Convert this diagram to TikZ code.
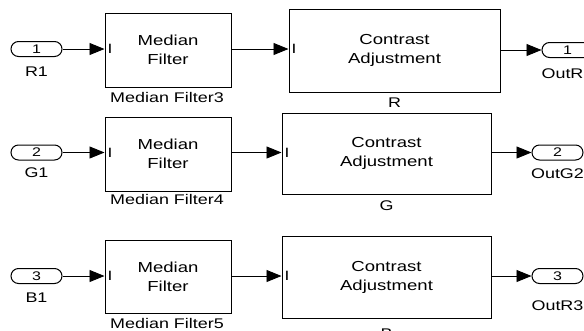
\documentclass[tikz,border=0pt]{standalone}
\usepackage{fontspec}
\setmainfont{Liberation Sans}[FakeStretch=1.28]
\usetikzlibrary{arrows.meta}
\begin{document}
\begin{tikzpicture}[x=1pt,y=-1pt,
  blk/.style={draw, line width=1pt, align=center, inner sep=0pt,
    font=\fontsize{14.5}{19}\selectfont},
  port/.style={draw, line width=1pt, rounded corners=7.5pt, minimum width=51pt,
    minimum height=15pt, inner sep=0pt, font=\fontsize{12.5}{12.5}\selectfont},
  lbl/.style={anchor=base, inner sep=0pt, font=\fontsize{14}{14}\selectfont},
  pin/.style={anchor=west, inner sep=0pt, font=\fontsize{13.5}{14}\selectfont},
  wire/.style={line width=0.9pt, -{Triangle[length=15pt,width=12pt]}}]
\clip (0,0) rectangle (584,330);
\useasboundingbox (0,0) rectangle (584,330);

% ---- red channel ----
\node[port] (in1) at (36.5,49) {1};
\node[lbl] (in1lbl) at (36.5,76) {R1};
\node[blk, minimum width=126pt, minimum height=74pt] (med1) at (168,50) {Median\\Filter};
\node[pin] (med1in) at ([xshift=3pt]med1.west |- in1) {I};
\node[lbl] (med1lbl) at (167,102) {Median Filter3};
\node[blk, minimum width=211pt, minimum height=83pt] (con1) at (394.5,50.5) {Contrast\\Adjustment};
\node[pin] (con1in) at ([xshift=3pt]con1.west |- in1) {I};
\node[lbl] (con1lbl) at (394.5,107) {R};
\node[port] (out1) at (567.5,50) {1};
\node[lbl] (out1lbl) at (567.5,78) {OutR1};
\draw[wire] (in1) -- (med1.west |- in1);
\draw[wire] (med1.east |- in1) -- (con1.west |- in1);
\draw[wire] (con1.east |- out1) -- (out1);

% ---- green channel ----
\node[port] (in2) at (36.5,152.5) {2};
\node[lbl] (in2lbl) at (36.5,177) {G1};
\node[blk, minimum width=126pt, minimum height=74pt] (med2) at (168,154) {Median\\Filter};
\node[pin] (med2in) at ([xshift=3pt]med2.west |- in2) {I};
\node[lbl] (med2lbl) at (167,204) {Median Filter4};
\node[blk, minimum width=209pt, minimum height=81pt] (con2) at (386.5,153.5) {Contrast\\Adjustment};
\node[pin] (con2in) at ([xshift=3pt]con2.west |- in2) {I};
\node[lbl] (con2lbl) at (386.5,210) {G};
\node[port] (out2) at (557.5,152.5) {2};
\node[lbl] (out2lbl) at (557.5,178) {OutG2};
\draw[wire] (in2) -- (med2.west |- in2);
\draw[wire] (med2.east |- in2) -- (con2.west |- in2);
\draw[wire] (con2.east |- out2) -- (out2);

% ---- blue channel ----
\node[port] (in3) at (36.5,276) {3};
\node[lbl] (in3lbl) at (36.5,302) {B1};
\node[blk, minimum width=126pt, minimum height=73pt] (med3) at (168,276.5) {Median\\Filter};
\node[pin] (med3in) at ([xshift=3pt]med3.west |- in3) {I};
\node[lbl] (med3lbl) at (167,328) {Median Filter5};
\node[blk, minimum width=209pt, minimum height=82pt] (con3) at (386.5,277) {Contrast\\Adjustment};
\node[pin] (con3in) at ([xshift=3pt]con3.west |- in3) {I};
\node[lbl] (con3lbl) at (386.5,338) {B};
\node[port] (out3) at (557.5,276) {3};
\node[lbl] (out3lbl) at (557.5,310) {OutR3};
\draw[wire] (in3) -- (med3.west |- in3);
\draw[wire] (med3.east |- in3) -- (con3.west |- in3);
\draw[wire] (con3.east |- out3) -- (out3);
\end{tikzpicture}
\end{document}
